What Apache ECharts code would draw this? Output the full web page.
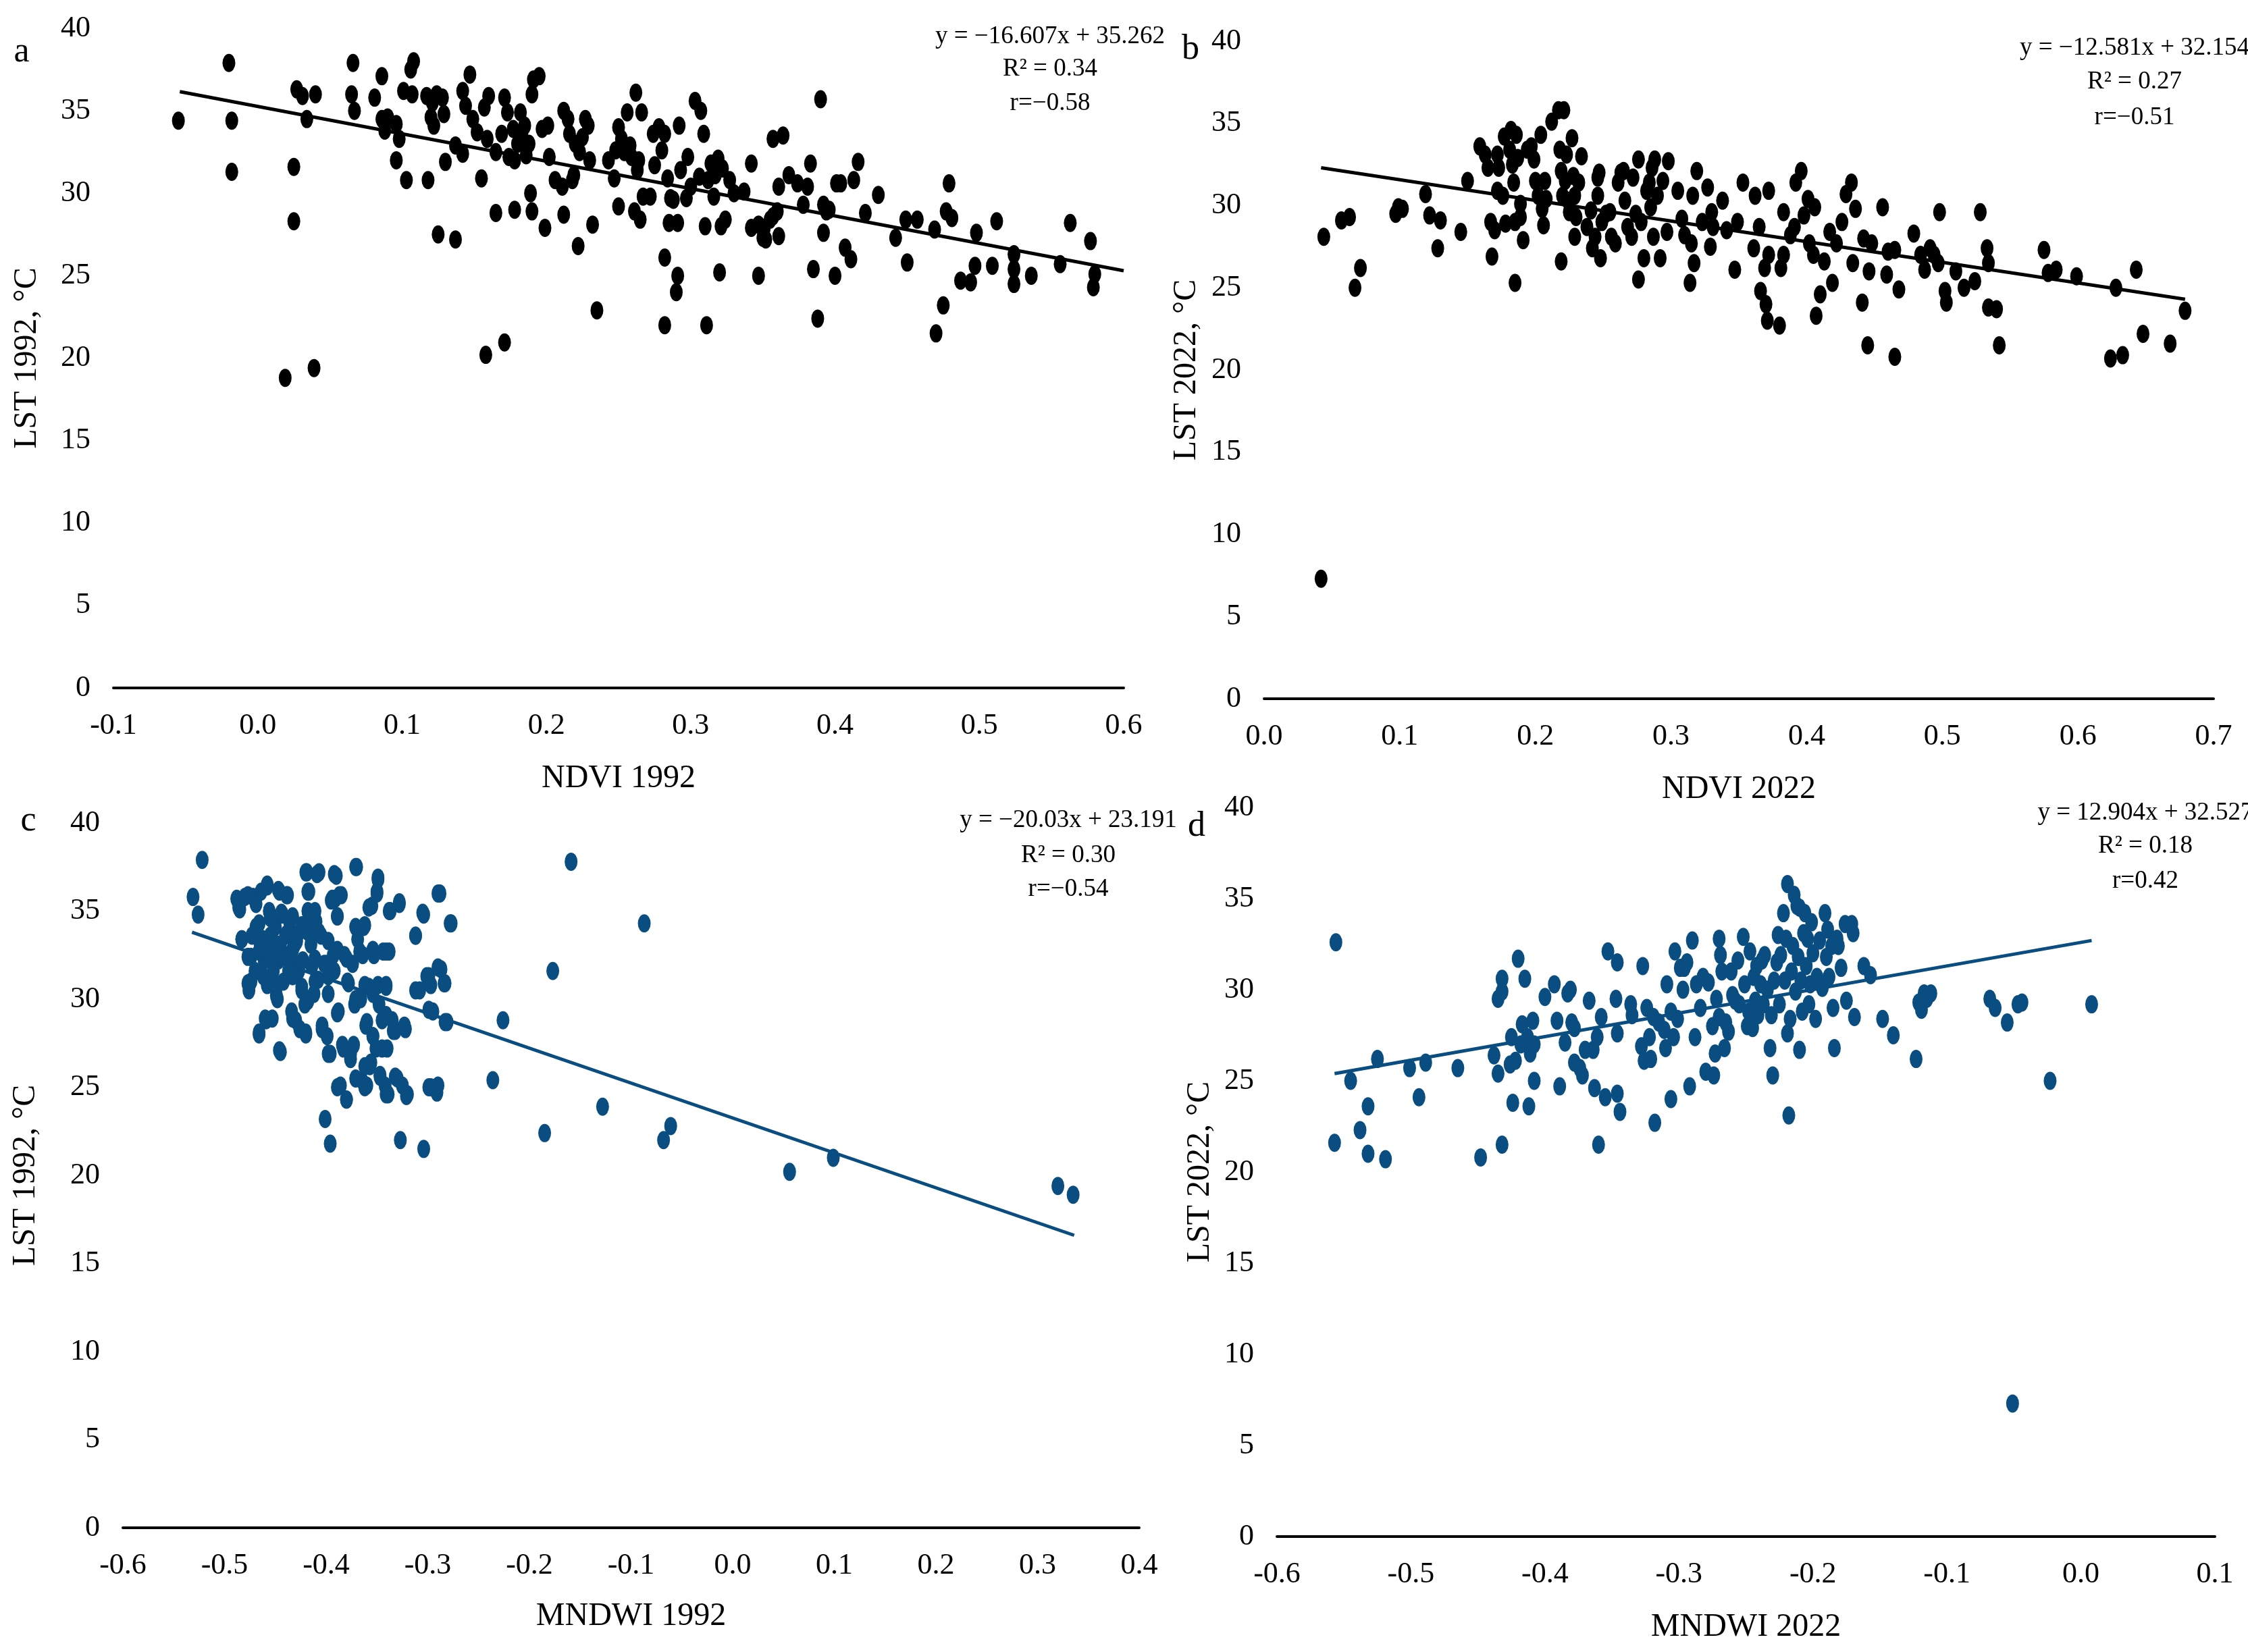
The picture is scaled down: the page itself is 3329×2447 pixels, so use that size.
<!DOCTYPE html>
<html>
<head>
<meta charset="utf-8">
<script src="https://cdn.jsdelivr.net/npm/echarts@6/dist/echarts.min.js"></script>
<style>
html, body { margin: 0; padding: 0; background: #fff; }
#chart { width: 3329px; height: 2447px; }
</style>
</head>
<body>
<div id="chart"></div>
<script>
// a: NDVI 1992 vs LST 1992
var ndvi1992 = [
[-0.055,34.4],[-0.020,37.9],[-0.018,34.4],[-0.018,31.3],[0.025,31.6],[0.025,28.3],[0.027,36.3],[0.031,35.9],
[0.034,34.5],[0.040,36.0],[0.019,18.8],[0.039,19.4],[0.065,36.0],[0.066,37.9],[0.067,35.0],[0.081,35.8],
[0.086,37.1],[0.086,34.5],[0.088,33.8],[0.090,34.6],[0.096,34.2],[0.098,33.3],[0.096,32.0],[0.103,30.8],
[0.101,36.2],[0.106,37.5],[0.108,38.0],[0.107,36.0],[0.117,35.9],[0.121,35.5],[0.122,34.1],[0.120,34.6],
[0.124,36.0],[0.128,35.8],[0.129,34.8],[0.118,30.8],[0.125,27.5],[0.130,31.9],[0.137,27.2],[0.137,32.9],
[0.142,32.4],[0.142,36.2],[0.144,35.3],[0.147,37.2],[0.149,34.5],[0.152,33.7],[0.155,30.9],[0.157,35.2],
[0.160,35.9],[0.159,33.3],[0.165,28.8],[0.158,20.2],[0.171,20.95],[0.165,32.5],[0.169,33.6],[0.171,35.8],
[0.173,34.9],[0.174,32.2],[0.177,33.9],[0.178,29.0],[0.178,32.0],[0.180,33.0],[0.182,34.9],[0.183,33.6],
[0.185,34.1],[0.186,32.3],[0.188,33.0],[0.189,30.0],[0.190,28.9],[0.190,36.0],[0.191,36.9],[0.195,37.1],
[0.199,27.9],[0.197,33.9],[0.201,34.1],[0.202,32.2],[0.206,30.8],[0.211,30.4],[0.212,28.7],[0.212,35.0],
[0.215,34.5],[0.216,33.6],[0.218,30.8],[0.219,31.1],[0.220,33.0],[0.222,26.8],[0.223,32.5],[0.225,33.4],
[0.227,34.5],[0.229,34.1],[0.230,32.0],[0.232,28.1],[0.235,22.9],[0.243,32.0],[0.247,30.9],[0.248,32.6],
[0.250,29.2],[0.250,34.0],[0.252,33.3],[0.254,32.5],[0.256,34.9],[0.258,32.9],[0.259,32.2],[0.261,28.9],
[0.262,36.1],[0.263,31.4],[0.264,32.0],[0.265,28.4],[0.266,34.9],[0.267,29.8],[0.272,29.8],[0.274,33.6],
[0.275,31.7],[0.278,34.0],[0.280,32.6],[0.282,33.6],[0.282,22.0],[0.282,26.1],[0.284,30.9],[0.286,29.7],
[0.285,28.2],[0.288,29.6],[0.291,28.2],[0.291,25.0],[0.290,24.0],[0.292,34.1],[0.293,31.4],[0.297,29.7],
[0.298,32.2],[0.300,30.4],[0.303,35.6],[0.306,31.0],[0.307,35.0],[0.309,33.6],[0.310,28.0],[0.311,22.0],
[0.312,30.8],[0.314,31.8],[0.316,29.8],[0.317,31.1],[0.319,32.1],[0.320,25.2],[0.321,28.0],[0.322,31.5],
[0.324,28.4],[0.327,30.8],[0.330,30.0],[0.337,30.1],[0.342,31.8],[0.342,27.9],[0.347,25.0],[0.347,28.1],
[0.350,27.3],[0.351,27.9],[0.352,27.2],[0.355,28.4],[0.357,28.6],[0.360,28.9],[0.357,33.3],[0.361,27.4],
[0.361,30.4],[0.364,33.5],[0.368,31.1],[0.374,30.6],[0.378,29.3],[0.381,30.4],[0.383,31.8],[0.385,25.4],
[0.388,22.4],[0.390,35.7],[0.392,27.6],[0.392,29.3],[0.394,28.9],[0.396,29.0],[0.400,25.0],[0.401,30.6],
[0.404,30.6],[0.407,26.7],[0.411,26.0],[0.413,30.8],[0.416,31.9],[0.421,28.8],[0.430,29.9],[0.442,27.3],
[0.449,28.4],[0.450,25.8],[0.457,28.4],[0.469,27.8],[0.470,21.5],[0.475,23.2],[0.477,28.9],[0.479,30.6],
[0.481,28.5],[0.487,24.7],[0.494,24.6],[0.497,25.6],[0.498,27.6],[0.509,25.6],[0.512,28.3],[0.524,26.3],
[0.524,25.4],[0.524,24.5],[0.536,25.0],[0.556,25.7],[0.563,28.2],[0.577,27.1],[0.580,25.1],[0.579,24.3]
];

// b: NDVI 2022 vs LST 2022
var ndvi2022 = [
[0.044,28.1],[0.042,7.3],[0.057,29.1],[0.063,29.3],[0.067,25.0],[0.071,26.2],[0.097,29.5],[0.099,29.9],
[0.102,29.8],[0.119,30.7],[0.122,29.4],[0.128,27.4],[0.130,29.1],[0.145,28.4],[0.150,31.5],[0.159,33.6],
[0.163,33.1],[0.165,32.3],[0.167,29.0],[0.168,26.9],[0.170,28.5],[0.172,30.9],[0.172,33.1],[0.173,32.3],
[0.176,30.6],[0.177,34.2],[0.178,28.9],[0.181,33.4],[0.182,34.6],[0.183,32.5],[0.184,31.4],[0.185,25.3],
[0.185,29.0],[0.186,34.3],[0.187,32.9],[0.189,29.3],[0.189,30.1],[0.191,27.9],[0.194,33.4],[0.197,33.6],
[0.199,32.8],[0.200,31.5],[0.202,30.6],[0.204,34.3],[0.205,29.8],[0.206,28.8],[0.207,31.5],[0.208,30.4],
[0.212,35.1],[0.217,35.8],[0.221,35.8],[0.218,33.4],[0.219,32.1],[0.219,26.6],[0.220,30.6],[0.222,31.5],
[0.223,33.1],[0.224,30.3],[0.225,29.6],[0.227,34.1],[0.228,31.8],[0.229,28.1],[0.229,30.6],[0.230,29.3],
[0.232,31.4],[0.234,33.0],[0.238,28.7],[0.241,29.7],[0.242,27.4],[0.244,28.1],[0.246,30.6],[0.246,31.7],
[0.247,32.0],[0.248,26.8],[0.249,29.0],[0.252,29.5],[0.255,29.6],[0.256,28.1],[0.259,27.7],[0.261,31.4],
[0.263,32.0],[0.265,32.1],[0.266,30.3],[0.268,28.7],[0.271,28.1],[0.272,31.7],[0.274,29.5],[0.276,25.5],
[0.276,32.8],[0.278,29.0],[0.280,26.8],[0.282,30.9],[0.284,31.4],[0.285,29.9],[0.286,32.3],[0.287,28.1],
[0.288,32.8],[0.290,30.6],[0.292,26.8],[0.294,31.5],[0.297,28.4],[0.298,32.7],[0.305,30.9],[0.308,29.2],
[0.310,28.2],[0.314,25.3],[0.315,27.7],[0.316,30.6],[0.317,26.5],[0.319,32.1],[0.323,29.0],[0.327,31.1],
[0.329,27.5],[0.330,29.6],[0.331,28.7],[0.338,30.3],[0.341,28.5],[0.347,26.1],[0.349,29.0],[0.353,31.4],
[0.361,27.4],[0.362,30.6],[0.365,28.7],[0.366,24.8],[0.369,26.2],[0.370,24.0],[0.371,23.0],[0.372,30.9],
[0.372,27.0],[0.380,22.7],[0.381,26.2],[0.383,27.0],[0.383,29.6],[0.388,28.2],[0.391,28.7],[0.392,31.4],
[0.396,32.1],[0.398,29.4],[0.401,30.4],[0.402,27.7],[0.405,27.0],[0.406,29.9],[0.407,23.3],[0.410,24.6],
[0.413,26.6],[0.417,28.4],[0.419,25.3],[0.422,27.7],[0.426,29.0],[0.429,30.7],[0.433,31.4],[0.434,26.5],
[0.436,29.8],[0.441,24.1],[0.442,28.0],[0.445,21.5],[0.446,26.0],[0.448,27.7],[0.456,29.9],[0.459,25.8],
[0.460,27.2],[0.465,20.8],[0.465,27.3],[0.468,24.9],[0.479,28.3],[0.484,27.0],[0.487,26.1],[0.491,27.4],
[0.494,27.0],[0.497,26.5],[0.498,29.6],[0.502,24.8],[0.503,24.1],[0.510,26.0],[0.516,25.0],[0.524,25.4],
[0.528,29.6],[0.533,27.4],[0.534,26.5],[0.534,23.8],[0.540,23.7],[0.542,21.5],[0.575,27.3],[0.578,25.9],
[0.584,26.1],[0.599,25.7],[0.624,20.7],[0.628,25.0],[0.633,20.9],[0.643,26.1],[0.648,22.2],[0.668,21.6],
[0.679,23.6]
];

// c: MNDWI 1992 vs LST 1992
var mndwi1992 = [
[-0.531,35.8],[-0.526,34.8],[-0.522,37.9],[-0.487,35.6],[-0.485,35.1],[-0.483,33.4],[-0.480,35.8],[-0.476,30.5],
[-0.474,32.4],[-0.474,31.0],[-0.472,35.8],[-0.470,31.6],[-0.469,34.1],[-0.466,28.0],[-0.465,33.1],[-0.464,36.1],
[-0.461,32.2],[-0.459,28.8],[-0.458,30.8],[-0.458,36.5],[-0.456,35.0],[-0.455,33.6],[-0.454,32.8],[-0.453,28.9],
[-0.452,31.6],[-0.450,34.1],[-0.449,30.2],[-0.447,32.2],[-0.446,36.1],[-0.445,27.0],[-0.445,33.1],[-0.443,34.8],
[-0.442,31.0],[-0.441,32.5],[-0.439,33.7],[-0.438,35.9],[-0.437,31.6],[-0.436,34.4],[-0.434,29.3],[-0.433,32.2],
[-0.431,33.1],[-0.430,28.8],[-0.428,33.7],[-0.427,31.6],[-0.426,28.3],[-0.424,30.7],[-0.423,32.2],[-0.421,29.7],
[-0.420,28.0],[-0.419,37.2],[-0.418,35.0],[-0.417,36.1],[-0.415,33.1],[-0.414,31.9],[-0.412,30.3],[-0.410,34.4],
[-0.408,31.1],[-0.407,37.2],[-0.405,33.6],[-0.404,28.5],[-0.402,32.0],[-0.401,23.2],[-0.399,27.9],[-0.398,30.3],
[-0.396,21.8],[-0.396,26.9],[-0.395,35.6],[-0.393,32.5],[-0.392,31.6],[-0.390,37.0],[-0.389,34.7],[-0.388,29.3],
[-0.386,25.1],[-0.385,35.9],[-0.383,27.2],[-0.382,32.5],[-0.380,24.3],[-0.379,31.0],[-0.376,26.6],[-0.374,32.0],
[-0.373,27.4],[-0.372,29.7],[-0.370,37.5],[-0.369,33.4],[-0.366,30.0],[-0.365,25.4],[-0.364,32.5],[-0.363,34.1],
[-0.361,28.5],[-0.360,25.1],[-0.358,30.7],[-0.357,26.2],[-0.355,35.3],[-0.354,27.9],[-0.353,32.5],[-0.351,27.2],
[-0.350,36.1],[-0.349,36.8],[-0.348,29.7],[-0.347,25.7],[-0.345,28.8],[-0.344,32.7],[-0.342,25.1],[-0.341,30.7],
[-0.340,27.2],[-0.339,24.6],[-0.338,32.7],[-0.338,35.0],[-0.335,28.8],[-0.332,28.2],[-0.330,25.5],[-0.328,35.4],
[-0.327,22.0],[-0.325,25.1],[-0.322,28.3],[-0.320,24.6],[-0.312,33.6],[-0.308,30.5],[-0.304,34.8],[-0.304,21.5],
[-0.299,31.3],[-0.297,30.8],[-0.297,25.0],[-0.295,29.3],[-0.291,24.7],[-0.290,25.1],[-0.288,36.0],[-0.287,31.7],
[-0.284,30.9],[-0.281,28.7],[-0.277,34.3],[-0.236,25.4],[-0.226,28.8],[-0.185,22.4],[-0.177,31.6],[-0.159,37.8],
[-0.128,23.9],[-0.087,34.3],[-0.068,22.0],[-0.061,22.8],[0.056,20.2],[0.099,21.0],[0.320,19.4],[0.335,18.9],
// dense cluster, read from a closer look
[-0.488,35.7],[-0.486,35.2],[-0.477,35.9],[-0.469,35.4],[-0.458,36.4],[-0.447,36.2],[-0.439,35.9],[-0.466,34.3],
[-0.455,34.6],[-0.444,34.9],[-0.433,34.7],[-0.424,34.2],[-0.416,34.6],[-0.411,35.0],[-0.483,33.4],[-0.473,33.6],
[-0.462,33.4],[-0.451,33.2],[-0.440,33.6],[-0.429,33.3],[-0.418,33.8],[-0.407,33.8],[-0.398,33.3],[-0.477,32.4],
[-0.466,32.7],[-0.455,32.3],[-0.444,32.4],[-0.433,32.8],[-0.411,32.3],[-0.400,32.0],[-0.389,32.8],[-0.380,32.3],
[-0.367,32.7],[-0.354,32.8],[-0.341,32.7],[-0.371,34.1],[-0.362,34.2],[-0.389,34.7],[-0.391,35.7],[-0.418,36.1],
[-0.477,30.9],[-0.462,31.3],[-0.448,30.8],[-0.448,30.0],[-0.433,31.3],[-0.424,30.5],[-0.418,29.9],[-0.411,31.0],
[-0.398,31.3],[-0.378,30.9],[-0.362,30.8],[-0.349,30.8],[-0.341,30.8],[-0.371,30.0],[-0.354,30.3],[-0.460,28.9],
[-0.466,28.1],[-0.446,27.1],[-0.433,28.9],[-0.420,28.1],[-0.404,28.3],[-0.398,26.9],[-0.389,29.2],[-0.384,27.4],
[-0.376,26.9],[-0.360,28.7],[-0.354,27.9],[-0.345,27.2],[-0.341,29.1],[-0.334,28.2],[-0.323,28.5],[-0.362,26.2],
[-0.356,26.4],[-0.371,25.5],[-0.362,25.0],[-0.347,25.6],[-0.341,24.6],[-0.332,25.6],[-0.321,24.5],[-0.389,25.0],
[-0.380,24.3],[-0.299,25.0],[-0.293,24.9],[-0.312,30.5],[-0.301,31.3],[-0.290,31.8],[-0.283,30.9],[-0.299,29.4],
[-0.283,28.7],[-0.305,34.9],[-0.290,36.0],[-0.278,34.3],[-0.312,33.6],[-0.328,35.5],[-0.337,35.0],[-0.350,36.0],
[-0.349,36.9],[-0.358,35.2],[-0.371,37.5],[-0.392,37.1],[-0.409,37.1],[-0.420,37.2],[-0.394,35.7],[-0.387,35.9]
];

// d: MNDWI 2022 vs LST 2022
var mndwi2022 = [
[-0.557,21.6],[-0.556,32.6],[-0.545,25.0],[-0.538,22.3],[-0.532,23.6],[-0.532,21.0],[-0.525,26.2],[-0.519,20.7],
[-0.501,25.7],[-0.494,24.1],[-0.489,26.0],[-0.465,25.7],[-0.448,20.8],[-0.438,26.4],[-0.435,25.4],[-0.435,29.5],
[-0.432,30.6],[-0.432,29.9],[-0.432,21.5],[-0.426,25.9],[-0.425,27.4],[-0.424,23.8],[-0.422,26.1],[-0.420,31.7],
[-0.418,27.0],[-0.417,28.1],[-0.415,30.6],[-0.413,27.4],[-0.412,23.6],[-0.411,26.5],[-0.409,28.3],[-0.408,27.0],
[-0.408,25.0],[-0.400,29.6],[-0.393,30.3],[-0.391,28.3],[-0.389,24.7],[-0.385,27.1],[-0.383,29.8],[-0.381,30.0],
[-0.380,28.2],[-0.378,27.9],[-0.378,26.0],[-0.374,25.7],[-0.372,25.3],[-0.370,26.7],[-0.367,29.4],[-0.364,26.7],
[-0.363,24.6],[-0.361,27.4],[-0.360,21.5],[-0.358,28.5],[-0.355,24.1],[-0.353,32.1],[-0.347,29.5],[-0.346,27.6],
[-0.346,31.5],[-0.346,24.3],[-0.344,23.3],[-0.336,29.2],[-0.335,28.6],[-0.328,26.9],[-0.327,31.3],[-0.326,26.1],
[-0.324,29.0],[-0.322,27.4],[-0.321,26.2],[-0.319,28.5],[-0.318,22.7],[-0.315,28.2],[-0.311,27.8],[-0.310,26.8],
[-0.309,30.3],[-0.306,28.8],[-0.306,24.0],[-0.304,27.4],[-0.303,32.1],[-0.301,28.4],[-0.299,31.2],[-0.297,30.0],
[-0.296,31.2],[-0.294,31.5],[-0.292,24.7],[-0.290,32.7],[-0.288,27.4],[-0.287,30.3],[-0.284,29.0],[-0.282,30.7],
[-0.280,25.5],[-0.278,30.4],[-0.275,28.0],[-0.274,25.3],[-0.273,26.5],[-0.272,29.5],[-0.270,28.5],[-0.270,32.8],
[-0.269,31.9],[-0.268,31.0],[-0.266,26.8],[-0.265,28.2],[-0.263,27.7],[-0.261,31.0],[-0.260,29.7],[-0.258,29.4],
[-0.256,31.6],[-0.255,29.2],[-0.252,32.9],[-0.251,30.3],[-0.249,28.0],[-0.248,28.8],[-0.247,32.1],[-0.245,27.9],
[-0.244,30.7],[-0.243,29.4],[-0.242,31.3],[-0.241,28.6],[-0.239,30.3],[-0.238,31.6],[-0.237,29.2],[-0.236,31.9],
[-0.234,30.0],[-0.232,26.8],[-0.231,28.6],[-0.230,25.3],[-0.229,30.5],[-0.227,31.5],[-0.226,33.0],[-0.225,29.2],
[-0.224,31.9],[-0.222,34.2],[-0.221,30.5],[-0.220,32.8],[-0.219,27.6],[-0.219,35.8],[-0.218,23.1],[-0.217,28.4],
[-0.216,31.0],[-0.215,32.4],[-0.214,35.2],[-0.213,29.9],[-0.212,34.6],[-0.211,31.8],[-0.210,26.7],[-0.210,34.5],
[-0.209,30.5],[-0.208,28.8],[-0.207,33.1],[-0.206,34.2],[-0.205,31.3],[-0.204,32.8],[-0.203,29.2],[-0.202,30.3],
[-0.201,33.7],[-0.200,32.0],[-0.198,28.4],[-0.197,30.7],[-0.195,32.7],[-0.193,30.1],[-0.191,34.2],[-0.190,31.8],
[-0.189,33.3],[-0.188,30.7],[-0.186,32.4],[-0.185,29.0],[-0.184,26.8],[-0.182,32.8],[-0.181,32.4],[-0.179,31.2],
[-0.176,33.6],[-0.175,29.4],[-0.171,33.6],[-0.170,33.1],[-0.169,28.5],[-0.162,31.3],[-0.157,30.8],[-0.148,28.4],
[-0.140,27.5],[-0.123,26.2],[-0.121,29.3],[-0.119,28.9],[-0.117,29.8],[-0.115,29.5],[-0.112,29.8],[-0.068,29.5],
[-0.064,29.0],[-0.055,28.2],[-0.051,7.3],[-0.047,29.2],[-0.044,29.3],[-0.023,25.0],[0.008,29.2]
];

// trend line end points as drawn
var trendA = [[-0.054, 36.16], [0.6, 25.3]];
var trendB = [[0.042, 32.3], [0.679, 24.3]];
var trendC = [[-0.532, 33.8], [0.336, 16.6]];
var trendD = [[-0.557, 25.4], [0.008, 32.7]];

var xRanges = [[-0.1, 0.6], [0.0, 0.7], [-0.6, 0.4], [-0.6, 0.1]];
var xNames = ['NDVI 1992', 'NDVI 2022', 'MNDWI 1992', 'MNDWI 2022'];
var yNames = ['LST 1992, °C', 'LST 2022, °C', 'LST 1992, °C', 'LST 2022, °C'];
var panelLetters = ['a', 'b', 'c', 'd'];
var equations = [
    ['y = \u221216.607x + 35.262', 'R\u00b2 = 0.34', 'r=\u22120.58'],
    ['y = \u221212.581x + 32.154', 'R\u00b2 = 0.27', 'r=\u22120.51'],
    ['y = \u221220.03x + 23.191', 'R\u00b2 = 0.30', 'r=\u22120.54'],
    ['y = 12.904x + 32.527', 'R\u00b2 = 0.18', 'r=0.42']
];

var FONT = '"Liberation Serif", "Times New Roman", serif';
var BLUE = '#0a4d80';
var pointColors = ['#000000', '#000000', BLUE, BLUE];

// layout of the four plot areas
var grids = [
    {left: 168, top: 42, width: 1496, height: 977},
    {left: 1872, top: 61, width: 1406, height: 974},
    {left: 182, top: 1219, width: 1505, height: 1044},
    {left: 1891, top: 1196, width: 1389, height: 1080}
];
var xNameGap = [110, 110, 107, 110];
var yNameGap = [104, 91, 120, 90];
var letterPos = [[32, 77], [1763, 73], [42, 1216], [1772, 1224]];
var eqPos = [[1555, [54, 102, 153]], [3161, [71, 121, 174]], [1582, [1215, 1267, 1317]], [3177, [1204, 1253, 1305]]];

var myChart = echarts.init(document.getElementById('chart'));

var xAxes = [], yAxes = [], series = [], graphics = [];
var pts = [ndvi1992, ndvi2022, mndwi1992, mndwi2022];
var trends = [trendA, trendB, trendC, trendD];

for (var i = 0; i < 4; i++) {
    xAxes.push({
        gridIndex: i,
        type: 'value',
        min: xRanges[i][0],
        max: xRanges[i][1],
        interval: 0.1,
        name: xNames[i],
        nameLocation: 'middle',
        nameGap: xNameGap[i],
        nameTextStyle: {fontFamily: FONT, fontSize: 48, color: '#000'},
        axisLine: {show: true, onZero: false, lineStyle: {color: '#000', width: 4}},
        axisTick: {show: false},
        splitLine: {show: false},
        axisLabel: {
            margin: 34,
            fontFamily: FONT,
            fontSize: 44,
            color: '#000',
            formatter: function (v) {
                if (Math.abs(v) < 1e-9) return '0.0';
                return v.toFixed(1);
            }
        }
    });
    yAxes.push({
        gridIndex: i,
        type: 'value',
        min: 0,
        max: 40,
        interval: 5,
        name: yNames[i],
        nameLocation: 'middle',
        nameGap: yNameGap[i],
        nameTextStyle: {fontFamily: FONT, fontSize: 48, color: '#000'},
        axisLine: {show: false},
        axisTick: {show: false},
        splitLine: {show: false},
        axisLabel: {margin: 34, fontFamily: FONT, fontSize: 44, color: '#000'}
    });
    series.push({
        type: 'scatter',
        xAxisIndex: i,
        yAxisIndex: i,
        symbol: 'circle',
        symbolSize: [19, 27],
        itemStyle: {color: pointColors[i], opacity: 1},
        data: pts[i],
        z: 2
    });
    series.push({
        type: 'line',
        xAxisIndex: i,
        yAxisIndex: i,
        showSymbol: false,
        symbol: 'none',
        lineStyle: {color: pointColors[i], width: 5},
        data: trends[i],
        z: 3
    });

    graphics.push({
        type: 'text',
        x: letterPos[i][0],
        y: letterPos[i][1],
        style: {text: panelLetters[i], fontFamily: FONT, fontSize: 52, fill: '#000', align: 'center', verticalAlign: 'middle'}
    });
    for (var k = 0; k < 3; k++) {
        graphics.push({
            type: 'text',
            x: eqPos[i][0],
            y: eqPos[i][1][k],
            style: {text: equations[i][k], fontFamily: FONT, fontSize: 37, fill: '#000', align: 'center', verticalAlign: 'middle'}
        });
    }
}

var option = {
    backgroundColor: '#fff',
    animation: false,
    grid: grids,
    xAxis: xAxes,
    yAxis: yAxes,
    series: series,
    graphic: graphics
};
myChart.setOption(option);
</script>
</body>
</html>
